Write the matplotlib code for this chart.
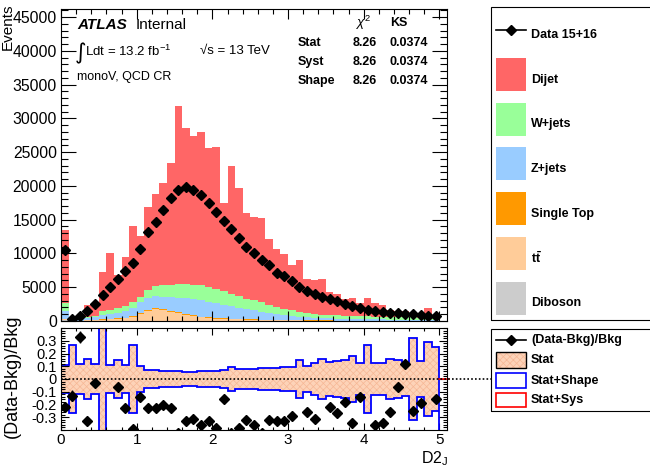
import numpy as np
import matplotlib
matplotlib.use('Agg')
import matplotlib.pyplot as plt
from matplotlib.patches import Rectangle
from matplotlib.lines import Line2D
from matplotlib.ticker import MultipleLocator, FuncFormatter

plt.rcParams['font.family'] = ['Liberation Sans', 'DejaVu Sans']
plt.rcParams['mathtext.fontset'] = 'custom'
plt.rcParams['mathtext.rm'] = 'Liberation Sans'
plt.rcParams['mathtext.it'] = 'Liberation Sans:italic'
plt.rcParams['mathtext.bf'] = 'Liberation Sans:bold'
plt.rcParams['axes.unicode_minus'] = False
plt.rcParams['hatch.linewidth'] = 0.5

# D2 binning: 50 bins of width 0.1
edges = np.linspace(0, 5, 51)
centers = 0.5 * (edges[1:] + edges[:-1])

# background samples (events per bin)
diboson = [150, 5, 10, 15, 20, 25, 30, 35, 40, 45, 50, 55, 60, 60, 60, 60, 60, 58, 55, 52,
           50, 48, 45, 42, 40, 38, 35, 33, 30, 28, 26, 24, 22, 20, 19, 18, 17, 16, 15, 14,
           13, 12, 11, 10, 10, 9, 9, 8, 8, 7]
ttbar = [120, 20, 40, 80, 120, 180, 230, 280, 350, 600, 1050, 1450, 1650, 1600, 1300, 1100, 850, 650, 480, 380,
         300, 250, 220, 190, 160, 140, 120, 100, 90, 80, 70, 60, 50, 45, 40, 35, 30, 28, 25, 22,
         20, 18, 16, 14, 12, 11, 10, 9, 8, 7]
single_top = [30, 5, 10, 20, 30, 40, 50, 60, 70, 100, 140, 170, 170, 160, 150, 140, 130, 120, 110, 100,
              95, 90, 85, 80, 75, 70, 65, 60, 55, 50, 45, 40, 35, 30, 28, 25, 22, 20, 18, 16,
              14, 12, 11, 10, 9, 8, 7, 6, 5, 5]
zjets = [1150, 100, 180, 280, 380, 700, 800, 880, 1000, 1150, 1500, 1800, 1800, 1700, 2000, 2150, 2350, 2450, 2400, 2350,
         2200, 2050, 1850, 1650, 1450, 1320, 1100, 980, 820, 700, 610, 500, 420, 380, 340, 310, 290, 270, 250, 235,
         220, 205, 195, 185, 175, 165, 160, 155, 150, 145]
wjets = [1210, 70, 110, 155, 250, 475, 560, 715, 700, 905, 810, 1075, 1470, 1880, 1890, 2000, 2060, 2120, 2255, 2170,
         2055, 1960, 1760, 1700, 1575, 1490, 1440, 1135, 1065, 960, 820, 685, 635, 495, 475, 470, 460, 445, 430, 415,
         400, 395, 375, 370, 365, 355, 345, 330, 330, 315]
dijet = [10810, 230, 190, 1870, 1650, 5780, 8360, 4830, 7320, 11310, 8970, 12290, 13690, 15030, 18070, 26430, 23140, 21950, 22690, 20600,
         21010, 13100, 18940, 16040, 12650, 12320, 12490, 9880, 8640, 8060, 6690, 7650, 5060, 5030, 5370, 3420, 3240, 2410, 2740, 1900,
         2810, 1970, 1730, 1060, 890, 870, 670, 510, 1370, 440]

data = [10480, 370, 716, 1520, 2510, 3910, 5050, 6150, 7340, 8630, 10720, 13210, 14700, 16450, 18240, 19380, 19830, 19380, 18590, 17500,
        16200, 14810, 13660, 12360, 11020, 10030, 9030, 8240, 7140, 6690, 5850, 5100, 4510, 4060, 3550, 3300, 2960, 2510, 2160, 1870,
        1670, 1520, 1370, 1220, 1120, 1070, 970, 820, 780, 670]

# (Data-Bkg)/Bkg per bin and the relative stat uncertainty of the background
ratio = [-0.22, -0.13, 0.33, -0.33, -0.03, -0.46, -0.5, -0.065, -0.23, -0.39, -0.14, -0.23, -0.23, -0.2, -0.23, -0.42, -0.33, -0.31, -0.36, -0.33,
         -0.385, -0.16, -0.42, -0.385, -0.32, -0.36, -0.42, -0.32, -0.33, -0.33, -0.29, -0.44, -0.26, -0.31, -0.44, -0.22, -0.27, -0.18, -0.345, -0.14,
         -0.52, -0.36, -0.345, -0.255, -0.06, 0.12, -0.25, -0.19, -0.58, -0.16]
stat_err = [0.11, 0.265, 0.12, 0.16, 0.12, 0.8, 0.11, 0.15, 0.11, 0.27,
            0.10, 0.072, 0.068, 0.066, 0.066, 0.06, 0.058, 0.057, 0.06, 0.063,
            0.066, 0.07, 0.093, 0.078, 0.077, 0.079, 0.087, 0.085, 0.085, 0.093,
            0.098, 0.148, 0.1, 0.127, 0.157, 0.132, 0.138, 0.148, 0.18, 0.127,
            0.27, 0.127, 0.127, 0.157, 0.15, 0.13, 0.32, 0.138, 0.29, 0.25]

W, H = 650, 467
fig = plt.figure(figsize=(W / 100, H / 100), dpi=100)


def fpos(x, y):
    return x / W, 1 - y / H


def frect(l, t, r, b):
    return [l / W, 1 - b / H, (r - l) / W, (b - t) / H]


ax = fig.add_axes(frect(61, 9, 447, 321))
rax = fig.add_axes(frect(61, 328, 447, 430))

MS = 5
BAND_FACE = '#fdd3b8'
BAND_HATCH = '#f6b896'

# stacked backgrounds, bottom to top
stack = [('Diboson', diboson, '#cccccc'),
         (r'$\mathbf{t\bar{t}}$', ttbar, '#ffcc99'),
         ('Single Top', single_top, '#ff9900'),
         ('Z+jets', zjets, '#99ccff'),
         ('W+jets', wjets, '#99ff99'),
         ('Dijet', dijet, '#ff6666')]
base = np.zeros(len(centers))
for name, vals, col in stack:
    top = base + np.asarray(vals, dtype=float)
    ax.stairs(top, edges, baseline=base, fill=True, color=col, lw=0)
    base = top
bkg = base

data = np.asarray(data, dtype=float)
ax.errorbar(centers, data, yerr=np.sqrt(data), fmt='D', color='black', ms=MS,
            elinewidth=1, capsize=0, zorder=5)
ax.set_xlim(0, 5.1)
ax.set_ylim(0, 46200)

# ratio panel
band = np.asarray(stat_err)
rax.stairs(band, edges, baseline=-band, fill=True, facecolor=BAND_FACE,
           edgecolor=BAND_HATCH, hatch='xxxxx', lw=0)
rax.stairs(band, edges, baseline=None, color='blue', lw=1.3)
rax.stairs(-band, edges, baseline=None, color='blue', lw=1.3)
rax.plot([5, 5], [band[-1], -0.4], color='blue', lw=1.3)
rax.plot([5.0, 5.12], [0, 0], color='red', lw=1.2, clip_on=False)
rax.plot([0, 5.69], [0, 0], color='black', lw=1.2, ls=(0, (1, 1.3)), clip_on=False, zorder=4)
rax.errorbar(centers, ratio, yerr=np.sqrt(data) / bkg, fmt='D', color='black', ms=MS,
             elinewidth=1, capsize=0, zorder=5)
rax.set_xlim(0, 5.1)
rax.set_ylim(-0.4, 0.4)

for a in (ax, rax):
    a.tick_params(which='both', direction='in', top=True, right=True, width=0.8)
    a.xaxis.set_major_locator(MultipleLocator(1))
    a.xaxis.set_minor_locator(MultipleLocator(0.2))
    for s in a.spines.values():
        s.set_linewidth(0.8)

ax.yaxis.set_major_locator(MultipleLocator(5000))
ax.yaxis.set_minor_locator(MultipleLocator(1000))
ax.yaxis.set_major_formatter(FuncFormatter(lambda v, p: f'{v:.0f}'))
ax.tick_params(axis='y', which='major', length=10.5, labelsize=11.3, pad=3)
ax.tick_params(axis='y', which='minor', length=5.3)
ax.tick_params(axis='x', which='major', length=7, labelbottom=False)
ax.tick_params(axis='x', which='minor', length=3.5)

rax.set_yticks([-0.3, -0.2, -0.1, 0, 0.1, 0.2, 0.3])
rax.yaxis.set_minor_locator(MultipleLocator(0.02))
rax.yaxis.set_major_formatter(FuncFormatter(lambda v, p: f'{round(v, 1) + 0.0:g}'))
rax.xaxis.set_major_formatter(FuncFormatter(lambda v, p: f'{v:.0f}'))
rax.tick_params(axis='y', which='major', length=6, labelsize=10.5, pad=3)
rax.tick_params(axis='y', which='minor', length=3)
rax.tick_params(axis='x', which='major', length=5, labelsize=11, pad=2)
rax.tick_params(axis='x', which='minor', length=2.5)

# axis titles
fig.text(*fpos(8, 3), 'Events', rotation=90, ha='center', va='top', fontsize=11)
fig.text(*fpos(12, 376), '(Data-Bkg)/Bkg', rotation=90, ha='center', va='center', fontsize=13)
fig.text(*fpos(448, 449), r'D2$_{\mathregular{J}}$', ha='right', va='top', fontsize=11.5)

# ATLAS label and selection
fig.text(*fpos(77, 25), 'ATLAS', fontweight='bold', fontstyle='italic', fontsize=11, va='center')
fig.text(*fpos(136, 25), 'Internal', fontsize=11, va='center')
fig.text(*fpos(75, 53), '\u222b', family='DejaVu Sans', fontsize=16, va='center')
fig.text(*fpos(85, 51), r'Ldt = 13.2 fb$^{\mathregular{-1}}$', fontsize=9.5, va='center')
fig.text(*fpos(200, 51), '\u221as = 13 TeV', fontsize=9.5, va='center')
fig.text(*fpos(77, 77), 'monoV, QCD CR', fontsize=9, va='center')

# goodness-of-fit table
fig.text(*fpos(356, 23), r'$\chi^{2}$', fontsize=9.5, va='center')
fig.text(*fpos(390, 23), 'KS', fontsize=9, fontweight='bold', va='center')
for row, yy in zip(['Stat', 'Syst', 'Shape'], [43, 62, 81]):
    fig.text(*fpos(298, yy), row, fontsize=9, fontweight='bold', va='center')
    fig.text(*fpos(353, yy), '8.26', fontsize=9, fontweight='bold', va='center')
    fig.text(*fpos(390, yy), '0.0374', fontsize=9, fontweight='bold', va='center')

# legend for the main panel
fig.add_artist(Rectangle(fpos(491, 320), (W + 10 - 491) / W, (320 - 7) / H,
                         transform=fig.transFigure, fill=False, ec='black', lw=0.8))
fig.add_artist(Line2D([496 / W, 526 / W], [fpos(0, 30)[1]] * 2, color='black', lw=1.2,
                      transform=fig.transFigure))
fig.add_artist(Line2D([511 / W], [fpos(0, 30)[1]], marker='D', ms=MS, color='black',
                      transform=fig.transFigure))
fig.text(*fpos(531, 35), 'Data 15+16', fontsize=9, fontweight='bold', va='center')
for i, (name, vals, col) in enumerate(stack[::-1]):
    yc = 74.5 + 44.7 * i
    fig.add_artist(Rectangle(fpos(496, yc + 16.5), 30 / W, 33 / H, transform=fig.transFigure,
                             facecolor=col, edgecolor='none'))
    fig.text(*fpos(531, yc + 5), name, fontsize=9, fontweight='bold', va='center')

# legend for the ratio panel
fig.add_artist(Rectangle(fpos(491, 411), (W + 10 - 491) / W, (411 - 329) / H,
                         transform=fig.transFigure, fill=False, ec='black', lw=0.8))
fig.add_artist(Line2D([496 / W, 526 / W], [fpos(0, 340)[1]] * 2, color='black', lw=1.2,
                      transform=fig.transFigure))
fig.add_artist(Line2D([511 / W], [fpos(0, 340)[1]], marker='D', ms=MS, color='black',
                      transform=fig.transFigure))
fig.text(*fpos(531, 340), '(Data-Bkg)/Bkg', fontsize=9, fontweight='bold', va='center')
fig.add_artist(Rectangle(fpos(496, 368), 30 / W, 16 / H, transform=fig.transFigure,
                         facecolor=BAND_FACE, edgecolor=BAND_HATCH, hatch='xxxxx', lw=0))
fig.add_artist(Rectangle(fpos(496, 368), 30 / W, 16 / H, transform=fig.transFigure,
                         fill=False, edgecolor='black', lw=1))
fig.text(*fpos(531, 360), 'Stat', fontsize=9, fontweight='bold', va='center')
fig.add_artist(Rectangle(fpos(496, 388), 30 / W, 15 / H, transform=fig.transFigure,
                         facecolor='white', edgecolor='blue', lw=1.2))
fig.text(*fpos(531, 381), 'Stat+Shape', fontsize=9, fontweight='bold', va='center')
fig.add_artist(Rectangle(fpos(496, 407), 30 / W, 14 / H, transform=fig.transFigure,
                         facecolor='white', edgecolor='red', lw=1.2))
fig.text(*fpos(531, 400), 'Stat+Sys', fontsize=9, fontweight='bold', va='center')

fig.savefig('out.png', dpi=100)
